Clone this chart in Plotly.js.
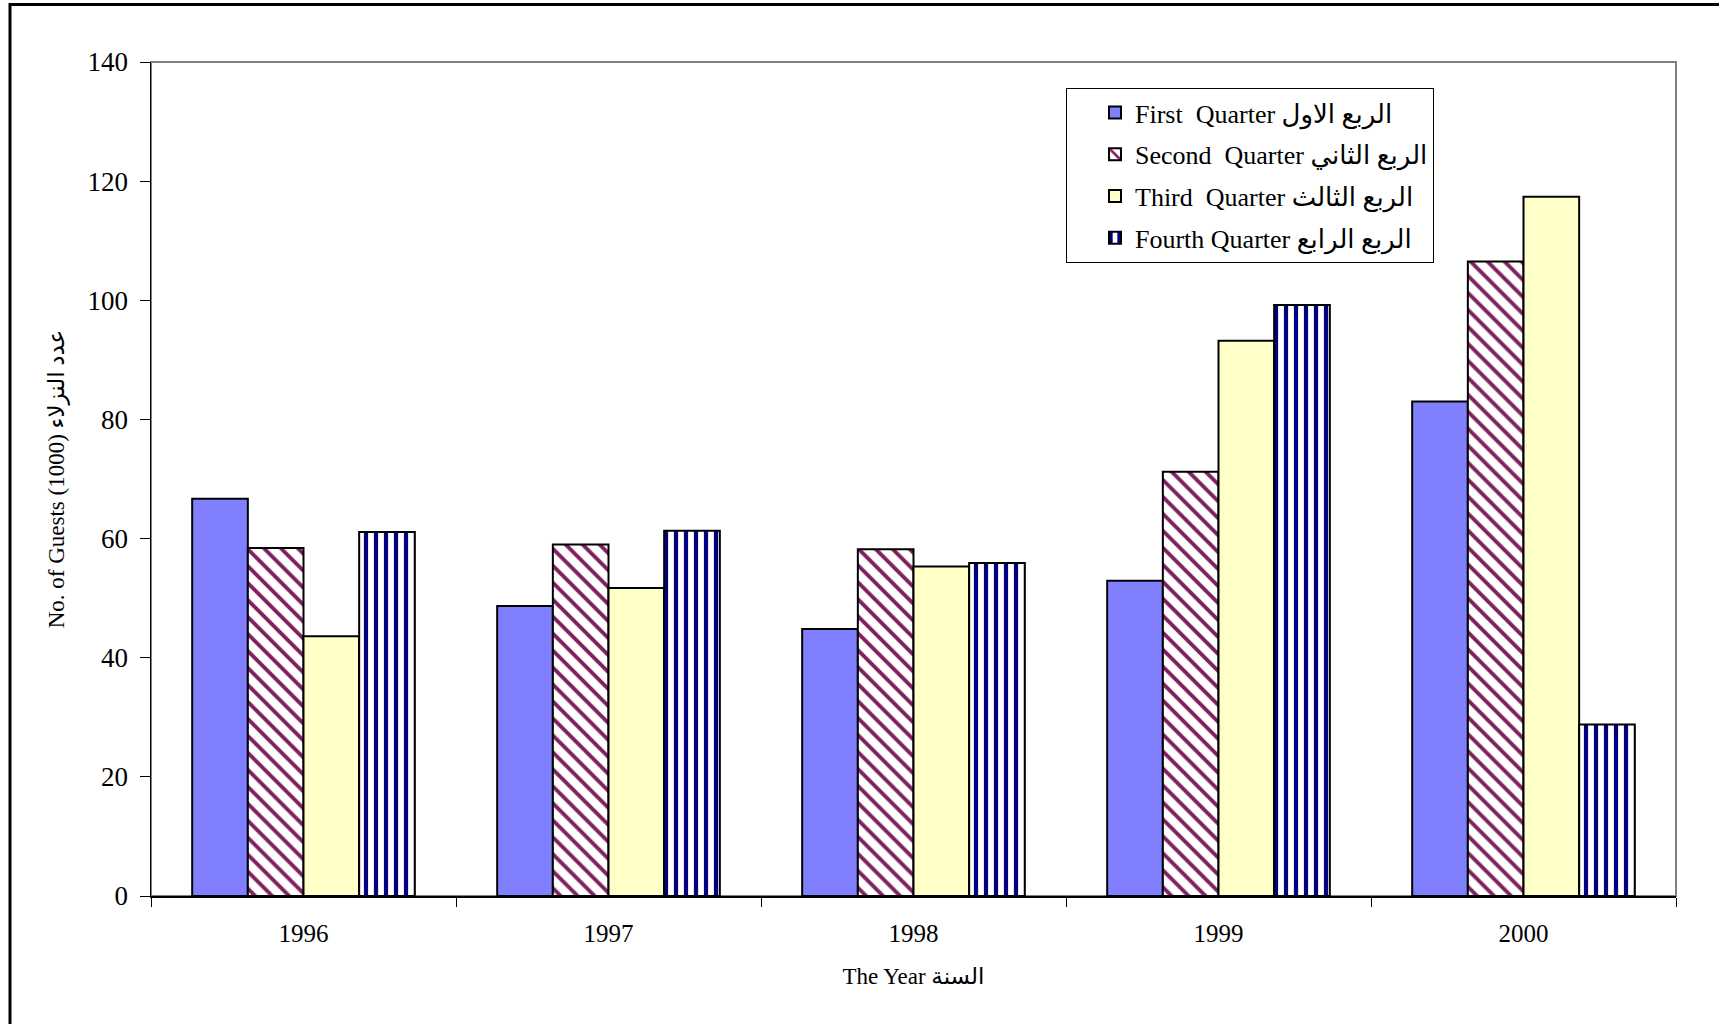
<!DOCTYPE html>
<html>
<head>
<meta charset="utf-8">
<script src="https://cdn.plot.ly/plotly-3.0.1.min.js"></script>
<style>
  html, body { margin: 0; padding: 0; background: #ffffff; }
  #chart { width: 1719px; height: 1024px; }
</style>
</head>
<body>
<div id="chart"></div>
<script>
// ---- Data ----
const years = ["1996", "1997", "1998", "1999", "2000"];
const firstQuarter  = [66.7, 48.7, 44.8, 52.9, 83.0];
const secondQuarter = [58.4, 59.0, 58.2, 71.2, 106.5];
const thirdQuarter  = [43.6, 51.7, 55.3, 93.2, 117.4];
const fourthQuarter = [61.1, 61.3, 55.9, 99.2, 28.8];
const seriesNames = [
  "First  Quarter الربع الاول",
  "Second  Quarter الربع الثاني",
  "Third  Quarter الربع الثالث",
  "Fourth Quarter الربع الرابع"
];
const yTicks = [0, 20, 40, 60, 80, 100, 120, 140];
const xTitle = "The Year السنة";
const yTitle = "No. of Guests (1000) عدد النزلاء";

const serif = "'Liberation Serif', 'Times New Roman', 'DejaVu Sans', serif";
const outline = { color: "#000000", width: 2 };

const traces = [
  {
    type: "bar", x: years, y: firstQuarter, name: seriesNames[0], legendgroup: "q1",
    marker: { color: "#8080FF", line: outline }
  },
  {
    type: "bar", x: years, y: secondQuarter, name: seriesNames[1], legendgroup: "q2",
    marker: { color: "#FFFFFF", line: outline,
      pattern: { shape: "\\", fgcolor: "#7F1F5F", bgcolor: "#FFFFFF", size: 12, solidity: 0.32, fillmode: "replace" } }
  },
  {
    type: "bar", x: years, y: thirdQuarter, name: seriesNames[2], legendgroup: "q3",
    marker: { color: "#FFFFC8", line: outline }
  },
  {
    type: "bar", x: years, y: fourthQuarter, name: seriesNames[3], legendgroup: "q4",
    marker: { color: "#FFFFFF", line: outline,
      pattern: { shape: "|", fgcolor: "#000080", bgcolor: "#FFFFFF", size: 10, solidity: 0.42, fillmode: "replace" } }
  }
];

const L = 151, R = 43, T = 62, B = 128;
const W = 1719, H = 1024;
const pw = W - L - R, ph = H - T - B;
const px2x = p => (p - L) / pw;
const py2y = p => 1 - (p - T) / ph;

const layout = {
  width: W, height: H,
  margin: { l: L, r: R, t: T, b: B, pad: 0 },
  paper_bgcolor: "#FFFFFF",
  plot_bgcolor: "#FFFFFF",
  font: { family: serif, color: "#000000", size: 24 },
  barmode: "group",
  bargap: 0.27,
  bargroupgap: 0,
  showlegend: true,
  legend: {
    x: px2x(1066), y: py2y(88), xanchor: "left", yanchor: "top",
    bgcolor: "#FFFFFF", bordercolor: "#000000", borderwidth: 1,
    font: { family: serif, size: 26, color: "#000000" },
    traceorder: "grouped", tracegroupgap: 5,
    itemwidth: 30, indentation: 28
  },
  xaxis: {
    type: "category",
    showline: true, linecolor: "#000000", linewidth: 1.5,
    ticks: "outside", tickson: "boundaries", ticklen: 9, tickcolor: "#000000", tickwidth: 1,
    ticklabelstandoff: 14,
    showgrid: false, zeroline: false,
    tickfont: { family: serif, size: 25, color: "#000000" },
    title: { text: xTitle, font: { family: serif, size: 23, color: "#000000" }, standoff: 22 }
  },
  yaxis: {
    range: [0, 140], tickmode: "array", tickvals: yTicks, ticktext: yTicks.map(String),
    showline: true, linecolor: "#000000", linewidth: 1.5,
    ticks: "outside", ticklen: 10, tickcolor: "#000000", tickwidth: 1,
    ticklabelstandoff: 6,
    showgrid: false, zeroline: false,
    tickfont: { family: serif, size: 27, color: "#000000" },
    title: { text: yTitle, font: { family: serif, size: 23, color: "#000000" }, standoff: 16 }
  },
  shapes: [
    { type: "rect", xref: "paper", yref: "paper", x0: 0, x1: 1, y0: 0, y1: 1,
      line: { color: "#808080", width: 2 }, fillcolor: "rgba(0,0,0,0)", layer: "below" },
    { type: "rect", xref: "paper", yref: "paper",
      x0: px2x(10), x1: px2x(W + 20), y0: py2y(H + 20), y1: py2y(4.5),
      line: { color: "#000000", width: 3 }, fillcolor: "rgba(0,0,0,0)", layer: "above" }
  ]
};

Plotly.newPlot("chart", traces, layout, { displayModeBar: false, staticPlot: true });
</script>
</body>
</html>
